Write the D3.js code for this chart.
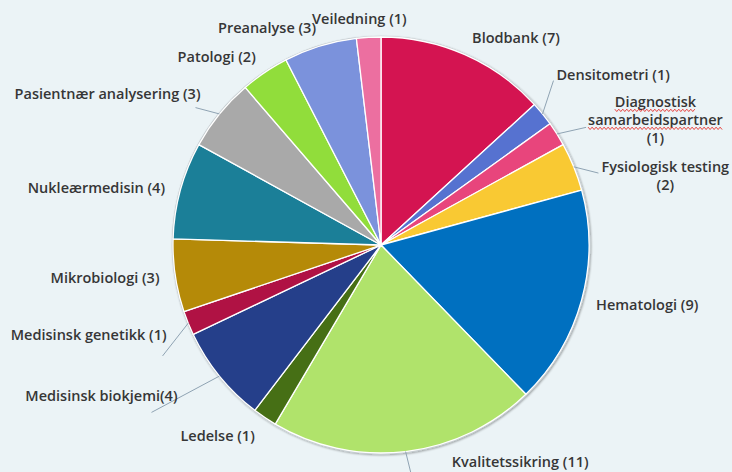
<!DOCTYPE html>
<html lang="no">
<head>
<meta charset="utf-8">
<title>Fagområder</title>
<script src="https://cdn.jsdelivr.net/npm/d3@7"></script>
<style>
  html, body { margin: 0; padding: 0; background: #ebf3f6; }
  svg { display: block; }
  .lbl { font-family: "Open Sans", sans-serif; font-weight: 600; font-size: 14.5px; fill: #363636; }
  .leader { stroke: #8fa3b3; stroke-width: 1; fill: none; }
</style>
</head>
<body>
<div id="chart"></div>
<script>
  // data, clockwise from 12 o'clock
  var categories = ["Blodbank", "Densitometri", "Diagnostisk samarbeidspartner", "Fysiologisk testing",
    "Hematologi", "Kvalitetssikring", "Ledelse", "Medisinsk biokjemi", "Medisinsk genetikk",
    "Mikrobiologi", "Nukleærmedisin", "Pasientnær analysering", "Patologi", "Preanalyse", "Veiledning"];
  var counts = [7, 1, 1, 2, 9, 11, 1, 4, 1, 3, 4, 3, 2, 3, 1];
  var labelLines = [["Blodbank (7)"], ["Densitometri (1)"], ["Diagnostisk", "samarbeidspartner", "(1)"],
    ["Fysiologisk testing", "(2)"], ["Hematologi (9)"], ["Kvalitetssikring (11)"], ["Ledelse (1)"],
    ["Medisinsk biokjemi(4)"], ["Medisinsk genetikk (1)"], ["Mikrobiologi (3)"], ["Nukleærmedisin (4)"],
    ["Pasientnær analysering (3)"], ["Patologi (2)"], ["Preanalyse (3)"], ["Veiledning (1)"]];
  var colors = ["#d41451", "#5672d0", "#e8457c", "#f9c933", "#0070c0", "#b0e36b", "#466f15", "#253f8a",
    "#b01244", "#b58a08", "#1b7f98", "#a9a9a9", "#91dd3b", "#7b92dc", "#ec6fa0"];

  var width = 732, height = 472;
  var cx = 381, cy = 245, r = 208, labelR = 226;

  // label tweaks: nudge of text from default point, leader end offset from text anchor
  var layout = {
    "Densitometri": { nudge: [0, -28], leader: [-3, 6] },
    "Diagnostisk samarbeidspartner": { nudge: [16, -4], leader: [-2, 7], spell: true },
    "Fysiologisk testing": { nudge: [11, 16], leader: [-3, -3] },
    "Hematologi": { nudge: [-3, 0] },
    "Kvalitetssikring": { nudge: [44, -7], leader: [-41, 10], anchor: "start" },
    "Ledelse": { nudge: [0, 3] },
    "Medisinsk biokjemi": { nudge: [-28, 9], leader: [-26, 16] },
    "Medisinsk genetikk": { nudge: [-5, 5], leader: [-4, 21] },
    "Mikrobiologi": { nudge: [2, 0] },
    "Nukleærmedisin": { nudge: [2, 2] },
    "Pasientnær analysering": { nudge: [-5, -9], leader: [-5, 14] },
    "Patologi": { nudge: [1, -1] },
    "Preanalyse": { nudge: [1, -1] },
    "Veiledning": { nudge: [39, 0] }
  };

  var svg = d3.select("#chart").append("svg")
    .attr("width", width)
    .attr("height", height);

  var defs = svg.append("defs");
  var f = defs.append("filter").attr("id", "shadow")
    .attr("x", "-10%").attr("y", "-10%").attr("width", "120%").attr("height", "120%");
  f.append("feGaussianBlur").attr("in", "SourceAlpha").attr("stdDeviation", 1.2);
  f.append("feOffset").attr("dx", 0.5).attr("dy", 1).attr("result", "b");
  f.append("feComponentTransfer").append("feFuncA").attr("type", "linear").attr("slope", 0.35);
  var m = f.append("feMerge");
  m.append("feMergeNode");
  m.append("feMergeNode").attr("in", "SourceGraphic");

  var table = categories.map(function(c, i) {
    return { name: c, value: counts[i], color: colors[i], lines: labelLines[i] };
  });

  var pie = d3.pie().sort(null).value(function(d) { return d.value; });
  var arcs = pie(table);
  var arc = d3.arc().innerRadius(0).outerRadius(r);
  var edgeArc = d3.arc().innerRadius(r).outerRadius(r);
  var labelArc = d3.arc().innerRadius(labelR).outerRadius(labelR);

  var g = svg.append("g").attr("transform", "translate(" + cx + "," + cy + ")");

  g.append("circle").attr("r", r + 0.5)
    .attr("fill", "#ccc").attr("stroke", "#c5ccd0").attr("stroke-width", 1.5)
    .attr("filter", "url(#shadow)");

  g.selectAll(".slice")
    .data(arcs)
    .enter()
    .append("path")
    .attr("class", "slice")
    .attr("d", arc)
    .attr("fill", function(d) { return d.data.color; })
    .attr("stroke", "#fff")
    .attr("stroke-width", 1.3)
    .attr("stroke-linejoin", "round");

  var labels = g.selectAll(".label")
    .data(arcs)
    .enter()
    .append("g")
    .attr("class", "label");

  labels.each(function(d) {
    var sel = d3.select(this);
    var lay = layout[d.data.name] || {};
    var nudge = lay.nudge || [0, 0];
    var p = labelArc.centroid(d);
    var mid = (d.startAngle + d.endAngle) / 2;
    var right = lay.anchor ? lay.anchor === "start" : mid < Math.PI;
    var x = p[0] + nudge[0], y = p[1] + nudge[1];
    var lh = 18;
    var n = d.data.lines.length;

    var tg = sel.append("g");
    var texts = d.data.lines.map(function(line, i) {
      return tg.append("text").attr("class", "lbl")
        .attr("y", y + (i - (n - 1) / 2) * lh)
        .attr("dy", "0.35em")
        .text(line);
    });
    var widths = texts.map(function(t) { return t.node().getComputedTextLength(); });
    var bw = d3.max(widths);
    texts.forEach(function(t) {
      t.attr("text-anchor", "middle").attr("x", right ? x + bw / 2 : x - bw / 2);
    });

    if (lay.spell) {
      // red wavy underline under the first two lines
      texts.slice(0, 2).forEach(function(t, i) {
        var w = widths[i];
        var x0 = (right ? x + bw / 2 : x - bw / 2) - w / 2;
        var yy = y + (i - (n - 1) / 2) * lh + 8;
        var pts = d3.range(0, Math.floor(w / 2) + 1).map(function(k) {
          return [x0 + k * 2, yy + (k % 2 ? 1.2 : -1.2)];
        });
        tg.append("path").attr("d", d3.line()(pts))
          .attr("fill", "none").attr("stroke", "#e8322e").attr("stroke-width", 0.9);
      });
    }

    if (lay.leader) {
      var a = edgeArc.centroid(d);
      var e = [x + lay.leader[0], y + lay.leader[1]];
      sel.insert("path", ":first-child").attr("class", "leader")
        .attr("d", d3.line()([a, e]));
    }
  });
</script>
</body>
</html>
